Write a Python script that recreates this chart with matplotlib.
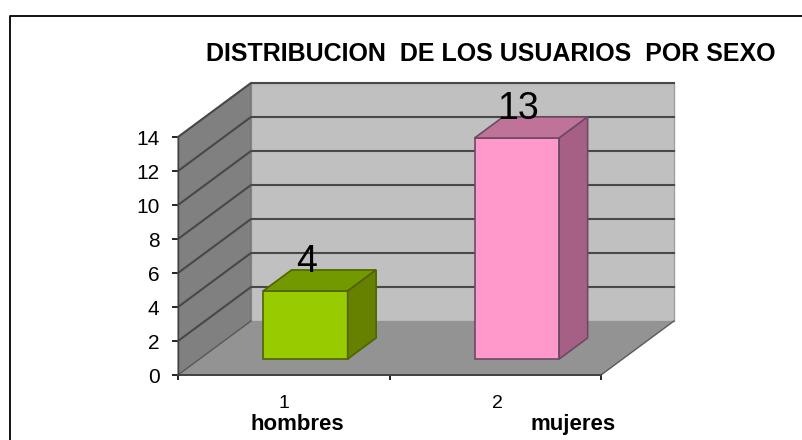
import numpy as np
import matplotlib
matplotlib.use('Agg')
import matplotlib.pyplot as plt
from matplotlib.patches import Polygon

plt.rcParams['font.family'] = ['Liberation Sans', 'DejaVu Sans']

# data
categories = [1, 2]
category_names = ['hombres', 'mujeres']
values = [4, 13]
bar_colors = ['#99CC00', '#FF99CC']
top_colors = ['#729900', '#BF7399']
side_colors = ['#668000', '#A66085']
edge_colors = ['#4F6400', '#6E4A62']
y_ticks = [0, 2, 4, 6, 8, 10, 12, 14]

W, H = 802, 440
fig = plt.figure(figsize=(W / 100, H / 100), dpi=100)

# axes covers the front plane of the 3d box
left, right, bottom, top = 178, 601, 375, 137
ax = fig.add_axes([left / W, 1 - bottom / H, (right - left) / W, (bottom - top) / H])
ax.set_xlim(0.5, 2.5)
ax.set_ylim(0, 14)
ax.patch.set_visible(False)

# depth of the box, in data units
dx = 73 / 211.5
dy = 54 / 17.0
bar_w = 0.4
bar_front = 0.296  # how far back the front of the bars sits
bar_depth = 0.39


def shift(x, y, d):
    return x + dx * d, y + dy * d


def poly(pts, fc, ec='none', lw=0.0, z=1):
    ax.add_patch(Polygon(pts, closed=True, facecolor=fc, edgecolor=ec, linewidth=lw,
                         zorder=z, clip_on=False))


x0, x1 = 0.5, 2.5
# back wall, side wall, floor
poly([shift(x0, 0, 1), shift(x1, 0, 1), shift(x1, 14, 1), shift(x0, 14, 1)], '#C0C0C0', '#A0A0A0', 1.0)
poly([(x0, 0), shift(x0, 0, 1), shift(x0, 14, 1), (x0, 14)], '#808080', '#707070', 0.8)
poly([(x0, 0), (x1, 0), shift(x1, 0, 1), shift(x0, 0, 1)], '#939393', 'none')

# gridlines
for t in y_ticks[1:]:
    p0 = (x0, t)
    p1 = shift(x0, t, 1)
    p2 = shift(x1, t, 1)
    ax.plot([p0[0], p1[0], p2[0]], [p0[1], p1[1], p2[1]], color='#484848', lw=1.5,
            zorder=2, clip_on=False, solid_joinstyle='miter')
ax.plot([x0, shift(x0, 0, 1)[0]], [0, shift(x0, 0, 1)[1]], color='#5A5A5A', lw=1.0, zorder=2, clip_on=False)
ax.plot([x1, shift(x1, 0, 1)[0]], [0, shift(x1, 0, 1)[1]], color='#5A5A5A', lw=1.0, zorder=2, clip_on=False)

# bars
for c, v, fc, tc, sc, ec in zip(categories, values, bar_colors, top_colors, side_colors, edge_colors):
    xl = c - bar_w / 2
    xr = c + bar_w / 2
    a = bar_front
    b = bar_front + bar_depth
    poly([shift(xl, 0, a), shift(xr, 0, a), shift(xr, v, a), shift(xl, v, a)], fc, ec, 1.2, 3)
    poly([shift(xl, v, a), shift(xr, v, a), shift(xr, v, b), shift(xl, v, b)], tc, ec, 1.2, 3)
    poly([shift(xr, 0, a), shift(xr, 0, b), shift(xr, v, b), shift(xr, v, a)], sc, ec, 1.2, 3)
    # value label
    ax.text(c + 0.108, v + 2.03, str(v), fontsize=27, ha='center', va='baseline', color='black', zorder=5)

# axes
for s in ['top', 'right']:
    ax.spines[s].set_visible(False)
ax.spines['left'].set_color('#404040')
ax.spines['left'].set_linewidth(1.0)
ax.spines['bottom'].set_color('#404040')
ax.spines['bottom'].set_linewidth(1.4)
ax.spines['bottom'].set_zorder(4)
ax.set_yticks(y_ticks)
ax.set_xticks([0.5, 1.5, 2.5])
ax.set_xticklabels([])
ax.tick_params(axis='y', length=4.3, width=1.2, labelsize=15, pad=9, color='black')
ax.tick_params(axis='x', length=3.6, width=1.2, color='black')

# category numbers and names, in pixel positions of the figure
fig.text(284 / W, 1 - 403 / H, '1', fontsize=14, ha='center', va='center')
fig.text(497 / W, 1 - 403 / H, '2', fontsize=14, ha='center', va='center')
fig.text(297 / W, 1 - 424 / H, category_names[0], fontsize=16, fontweight='bold', ha='center', va='center')
fig.text(573 / W, 1 - 424 / H, category_names[1], fontsize=16, fontweight='bold', ha='center', va='center')

fig.text(490.5 / W, 1 - 54 / H, 'DISTRIBUCION  DE LOS USUARIOS  POR SEXO', fontsize=18,
         fontweight='bold', ha='center', va='center')

# outer frame
fig.add_artist(plt.Line2D([10 / W, 10 / W, 802 / W], [0, 1 - 16 / H, 1 - 16 / H], color='black', lw=1.3))

fig.savefig('out.png', dpi=100)
